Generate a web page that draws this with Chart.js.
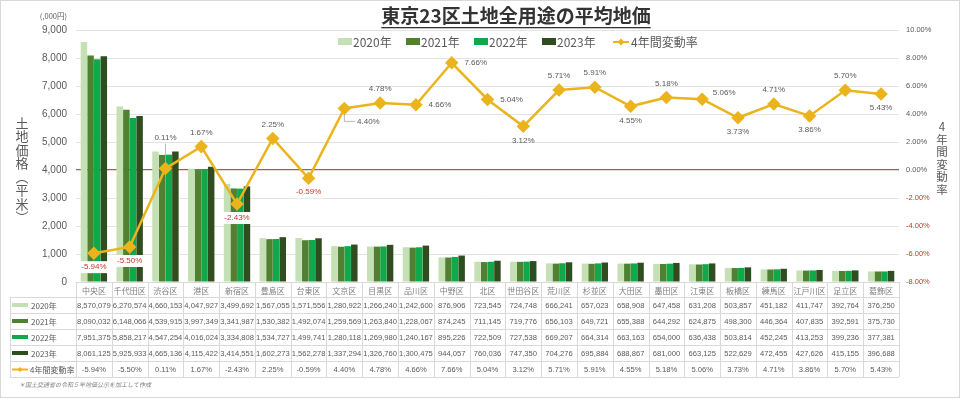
<!DOCTYPE html>
<html>
<head>
<meta charset="utf-8">
<script src="https://cdn.jsdelivr.net/npm/chart.js@4.4.1/dist/chart.umd.min.js"></script>
<style>
  html, body { margin: 0; padding: 0; background: #fff; }
  #wrap { width: 960px; height: 398px; }
</style>
</head>
<body>
<div id="wrap"><canvas id="myChart" width="960" height="398"></canvas></div>
<script>
const districts = ["中央区","千代田区","渋谷区","港区","新宿区","豊島区","台東区","文京区","目黒区","品川区","中野区","北区","世田谷区","荒川区","杉並区","大田区","墨田区","江東区","板橋区","練馬区","江戸川区","足立区","葛飾区"]
const price2020 = [8570079,6270574,4660153,4047927,3499692,1567055,1571556,1280922,1266240,1242600,876906,723545,724748,666241,657023,658908,647458,631208,503857,451182,411747,392764,376250]
const price2021 = [8090032,6148066,4539915,3997349,3341987,1530382,1492074,1259569,1263840,1228067,874245,711145,719776,656103,649721,655388,644292,624875,498300,446364,407835,392591,375730]
const price2022 = [7951375,5858217,4547254,4016024,3334808,1534727,1499741,1280118,1269980,1240167,895226,722509,727538,669207,664314,663163,654000,636438,503814,452245,413253,399236,377381]
const price2023 = [8061125,5925933,4665136,4115422,3414551,1602273,1562278,1337294,1326760,1300475,944057,760036,747350,704276,695884,688867,681000,663125,522629,472455,427626,415155,396688]
const rate4y = [-5.94,-5.50,0.11,1.67,-2.43,2.25,-0.59,4.40,4.78,4.66,7.66,5.04,3.12,5.71,5.91,4.55,5.18,5.06,3.73,4.71,3.86,5.70,5.43]
const priceTicks = [0,1000,2000,3000,4000,5000,6000,7000,8000,9000]
const rateTicks = [-8,-6,-4,-2,0,2,4,6,8,10]

// ラベルの置き方 (above / above2 / below / right / rightdown / rightup)
const labelSide = ["below","below","above2","above","below","above","below","rightdown","above","right","right","right","below","above","above","below","above","rightup","below","above","below","above","below"]

const colors = ["#c5e0b4","#4f8130","#10a84a","#2f4d1e"]
const lineColor = "#ebb41c"
const textGray = "#595959"
const negRed = "#c0392b"
const jp = "'Noto Sans CJK JP', 'Noto Sans', sans-serif"
const num = "'Liberation Sans', Arial, sans-serif"

const years = ["2020年","2021年","2022年","2023年"]
const priceSeries = [price2020, price2021, price2022, price2023]

const datasets = priceSeries.map((arr, i) => ({
  type: 'bar',
  label: years[i],
  data: arr.map(v => v / 1000),
  backgroundColor: colors[i],
  yAxisID: 'y',
  order: 1,
  categoryPercentage: 0.74,
  barPercentage: 0.98
}))
datasets.push({
  type: 'line',
  label: '4年間変動率',
  data: rate4y,
  borderColor: lineColor,
  backgroundColor: lineColor,
  borderWidth: 2.5,
  pointStyle: 'rectRot',
  pointRadius: 5,
  pointBackgroundColor: lineColor,
  pointBorderColor: lineColor,
  yAxisID: 'y2',
  order: 0,
  tension: 0
})

const decor = {
  id: 'decor',
  beforeDraw(chart) {
    const ctx = chart.ctx
    ctx.save()
    ctx.fillStyle = '#fff'
    ctx.fillRect(0, 0, chart.width, chart.height)
    ctx.restore()
  },
  afterDatasetsDraw(chart) {
    const ctx = chart.ctx
    const meta = chart.getDatasetMeta(4)
    ctx.save()
    ctx.font = "8px " + num
    ctx.textAlign = 'center'
    ctx.textBaseline = 'middle'
    meta.data.forEach((p, i) => {
      const v = rate4y[i]
      const t = v.toFixed(2) + '%'
      let x = p.x, y = p.y
      const side = labelSide[i]
      ctx.strokeStyle = '#a6a6a6'
      ctx.lineWidth = 0.8
      if (side === 'above') y -= 14
      else if (side === 'above2') {
        y -= 31
        ctx.beginPath(); ctx.moveTo(p.x, p.y - 6); ctx.lineTo(p.x, y + 6); ctx.stroke()
      }
      else if (side === 'below') y += 14
      else if (side === 'right') x += 24
      else if (side === 'rightdown') {
        x += 24; y += 13
        ctx.beginPath(); ctx.moveTo(p.x, p.y + 5); ctx.lineTo(p.x, y); ctx.lineTo(x - 13, y); ctx.stroke()
      }
      else if (side === 'rightup') { x += 22; y -= 6 }
      const w = ctx.measureText(t).width
      if (v < 0) {
        ctx.fillStyle = '#fff'
        ctx.fillRect(x - w / 2 - 3, y - 6, w + 6, 12)
      }
      ctx.fillStyle = v < 0 ? negRed : textGray
      ctx.fillText(t, x, y)
    })
    ctx.restore()
  },
  afterDraw(chart) {
    const ctx = chart.ctx
    const area = chart.chartArea
    const xs = chart.scales.x
    const n = districts.length
    const cw = (area.right - area.left) / n
    ctx.save()

    // 枠
    ctx.strokeStyle = '#d9d9d9'
    ctx.lineWidth = 1
    ctx.strokeRect(0.5, 0.5, chart.width - 1, chart.height - 1)

    // タイトル
    ctx.fillStyle = '#333'
    ctx.font = "bold 19px " + jp
    ctx.textAlign = 'center'
    ctx.textBaseline = 'middle'
    const title = '東京23区土地全用途の平均地価'
    const tw = ctx.measureText(title).width
    ctx.fillText(title, 516, 16)
    ctx.fillRect(516 - tw / 2, 27, tw, 1.3)

    // 凡例
    ctx.font = "12px " + jp
    ctx.textAlign = 'left'
    let lx = 338
    years.forEach((y, i) => {
      ctx.fillStyle = colors[i]
      ctx.fillRect(lx, 38, 14, 7)
      ctx.fillStyle = textGray
      ctx.fillText(y, lx + 15, 42)
      lx += 68
    })
    lx += 3
    ctx.strokeStyle = lineColor
    ctx.lineWidth = 2
    ctx.beginPath(); ctx.moveTo(lx, 42); ctx.lineTo(lx + 16, 42); ctx.stroke()
    diamond(ctx, lx + 8, 42, 3.5)
    ctx.fillStyle = textGray
    ctx.fillText('4年間変動率', lx + 18, 42)

    // 単位・軸タイトル
    ctx.font = "7.5px " + jp
    ctx.textAlign = 'right'
    ctx.fillText('(,000円)', 67, 16)
    ctx.textAlign = 'center'
    ctx.font = "13px " + jp
    const leftTitle = ['土','地','価','格','︵','平','米','︶']
    leftTitle.forEach((c, i) => ctx.fillText(c, 22, 123 + i * 13.5))
    ctx.font = "11.5px " + jp
    const rightTitle = ['4','年','間','変','動','率']
    rightTitle.forEach((c, i) => ctx.fillText(c, 942, 127 + i * 12.5))

    // データテーブル
    const rows = [297, 313, 329, 345, 361, 377]
    const top = area.bottom
    ctx.strokeStyle = '#d9d9d9'
    ctx.lineWidth = 1
    ctx.beginPath()
    ctx.moveTo(area.left, top + 0.5); ctx.lineTo(area.right, top + 0.5)
    rows.forEach(y => { ctx.moveTo(10, y + 0.5); ctx.lineTo(area.right, y + 0.5) })
    ctx.moveTo(10.5, rows[0]); ctx.lineTo(10.5, rows[5])
    for (let i = 0; i <= n; i++) {
      const x = Math.round(area.left + i * cw) + 0.5
      ctx.moveTo(x, top); ctx.lineTo(x, rows[5])
    }
    ctx.stroke()

    ctx.textAlign = 'center'
    ctx.textBaseline = 'middle'
    ctx.fillStyle = '#7f7f7f'
    ctx.font = "8px " + jp
    districts.forEach((d, i) => ctx.fillText(d, xs.getPixelForValue(i), (top + rows[0]) / 2 + 1))

    ctx.font = "7.6px " + num
    ctx.fillStyle = textGray
    priceSeries.forEach((arr, r) => {
      const cy = (rows[r] + rows[r + 1]) / 2 + 0.5
      arr.forEach((v, i) => ctx.fillText(v.toLocaleString('en-US'), xs.getPixelForValue(i), cy))
    })
    const ry = (rows[4] + rows[5]) / 2 + 0.5
    rate4y.forEach((v, i) => ctx.fillText(v.toFixed(2) + '%', xs.getPixelForValue(i), ry))

    ctx.textAlign = 'left'
    ctx.font = "8px " + jp
    years.forEach((y, r) => {
      const cy = (rows[r] + rows[r + 1]) / 2
      ctx.fillStyle = colors[r]
      ctx.fillRect(12, cy - 2, 16, 4)
      ctx.fillStyle = textGray
      ctx.fillText(y, 31, cy + 0.5)
    })
    ctx.strokeStyle = lineColor
    ctx.lineWidth = 2
    ctx.beginPath(); ctx.moveTo(12, ry); ctx.lineTo(28, ry); ctx.stroke()
    diamond(ctx, 20, ry, 2.5)
    ctx.fillStyle = textGray
    ctx.fillText('4年間変動率', 30, ry)

    // 注記
    ctx.font = "italic 6px " + jp
    ctx.fillStyle = '#7f7f7f'
    ctx.fillText('＊国土交通省の令和５年地価公示を加工して作成', 19, 385)
    ctx.restore()
  }
}

function diamond(ctx, x, y, r) {
  ctx.fillStyle = lineColor
  ctx.beginPath()
  ctx.moveTo(x, y - r); ctx.lineTo(x + r, y); ctx.lineTo(x, y + r); ctx.lineTo(x - r, y)
  ctx.closePath(); ctx.fill()
}

const ctx = document.getElementById('myChart').getContext('2d')
new Chart(ctx, {
  data: { labels: districts, datasets: datasets },
  plugins: [decor],
  options: {
    responsive: false,
    animation: false,
    layout: { padding: { top: 30, bottom: 116, left: 0, right: 0 } },
    plugins: { legend: { display: false }, tooltip: { enabled: false }, title: { display: false } },
    scales: {
      x: { display: false, offset: true },
      y: {
        position: 'left',
        min: 0, max: 9000,
        afterFit: s => { s.width = 76 },
        afterBuildTicks: s => { s.ticks = priceTicks.map(v => ({ value: v })) },
        ticks: { padding: 9, color: textGray, font: { size: 10, family: num }, callback: v => v.toLocaleString('en-US') },
        grid: { drawTicks: false, color: c => c.tick.value === 4000 ? '#b5574d' : '#e3e3e3', lineWidth: c => c.tick.value === 4000 ? 1.2 : 1 },
        border: { display: false }
      },
      y2: {
        position: 'right',
        min: -8, max: 10,
        afterFit: s => { s.width = 61 },
        afterBuildTicks: s => { s.ticks = rateTicks.map(v => ({ value: v })) },
        ticks: {
          padding: 7,
          font: { size: 7.5, family: num },
          color: c => c.tick.value < 0 ? negRed : textGray,
          callback: v => v.toFixed(2) + '%'
        },
        grid: { display: false, drawTicks: false },
        border: { display: false }
      }
    }
  }
})
</script>
</body>
</html>
